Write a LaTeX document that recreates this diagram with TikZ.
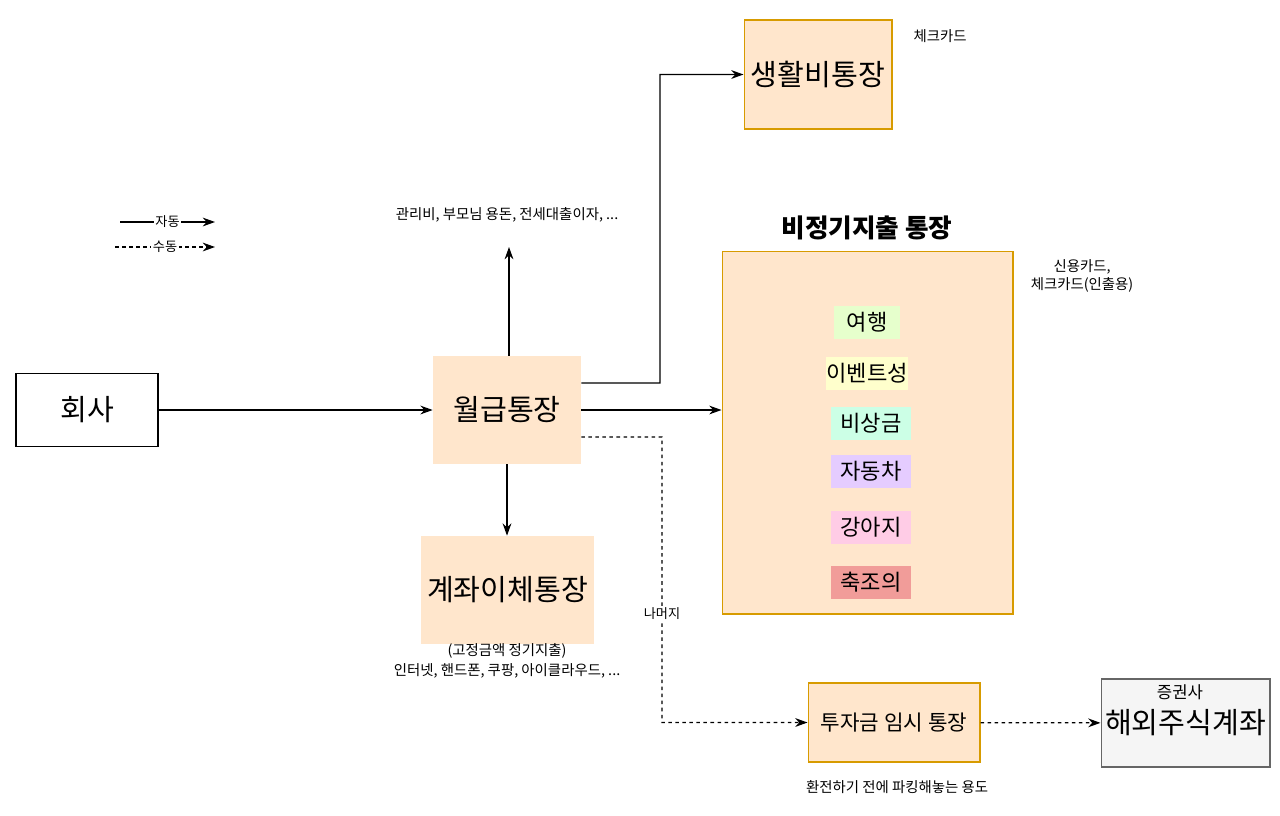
\documentclass[tikz,border=0pt]{standalone}
\usepackage{fontspec}
\setmainfont{Noto Sans CJK KR}
\usetikzlibrary{arrows.meta}
\definecolor{acc}{HTML}{FFE6CC}
\definecolor{accline}{HTML}{D79B00}
\definecolor{travel}{HTML}{E6FFCC}
\definecolor{event}{HTML}{FFFFCC}
\definecolor{reserve}{HTML}{CCFFE6}
\definecolor{car}{HTML}{E5CCFF}
\definecolor{dog}{HTML}{FFCCE6}
\definecolor{family}{HTML}{F19C99}
\definecolor{broker}{HTML}{F5F5F5}
\definecolor{brokerline}{HTML}{666666}
\begin{document}
\begin{tikzpicture}[x=0.02cm,y=-0.02cm,
    >={Stealth[length=7pt,width=5pt]},
    flow/.style={line width=0.7pt},
    manual/.style={line width=0.7pt,dash pattern=on 2pt off 2pt},
    big/.style={font=\fontsize{16.6}{19}\selectfont,inner sep=0pt},
    acct/.style={big,fill=acc},
    accbox/.style={acct,draw=accline,line width=0.6pt},
    item/.style={inner sep=0pt,minimum height=0.66cm,minimum width=1.6cm,font=\fontsize{12.6}{14}\selectfont},
    note/.style={font=\fontsize{8.2}{11}\selectfont,align=center},
    tiny/.style={font=\fontsize{7.5}{9}\selectfont,fill=white,inner sep=1pt}]
\useasboundingbox (0,0) rectangle (1280,815);
\node[big,draw,line width=0.6pt,minimum width=2.84cm,minimum height=1.46cm] (company) at (87,410) {회사};
\node[acct,minimum width=2.96cm,minimum height=2.16cm] (salary) at (507,410) {월급통장};
\node[acct,minimum width=3.46cm,minimum height=2.16cm] (transfer) at (507.5,590) {계좌이체통장};
\node[accbox,minimum width=2.96cm,minimum height=2.18cm] (living) at (818,74.5) {생활비통장};
\node[accbox,minimum width=5.82cm,minimum height=7.26cm] (irregular) at (867.5,432.5) {};
\node[font=\bfseries\fontsize{14.6}{17}\selectfont] (irrtitle) at (867,228) {비정기지출 통장};
\node[item,fill=travel,minimum width=1.32cm] (travel) at (867,322.5) {여행};
\node[item,fill=event] (event) at (867,373.5) {이벤트성};
\node[item,fill=reserve] (reserve) at (871,423.5) {비상금};
\node[item,fill=car] (car) at (871,471.5) {자동차};
\node[item,fill=dog] (dog) at (871,527.5) {강아지};
\node[item,fill=family] (family) at (871,582.5) {축조의};
\node[accbox,font=\fontsize{12.1}{14}\selectfont,minimum width=3.44cm,minimum height=1.58cm] (invest) at (894,722.5) {투자금 임시 통장};
\node[big,fill=broker,draw=brokerline,line width=0.6pt,minimum width=3.38cm,minimum height=1.76cm] (foreign) at (1185.5,723) {해외주식계좌};
\node[note,font=\fontsize{9.5}{11}\selectfont] (brokername) at (1180,692) {증권사};
\node[note] (checkcard) at (940,36) {체크카드};
\node[note] (fixed) at (507,215) {관리비, 부모님 용돈, 전세대출이자, ...};
\node[note,font=\fontsize{8.2}{10.2}\selectfont] (cards) at (1082,276) {신용카드,\\체크카드(인출용)};
\node[note,font=\fontsize{8.2}{11.3}\selectfont] (regular) at (507,661) {(고정금액 정기지출)\\인터넷, 핸드폰, 쿠팡, 아이클라우드, ...};
\node[note] (parking) at (897,787) {환전하기 전에 파킹해놓는 용도};
\coordinate (upend) at (509,247);
\coordinate (bendliving) at (660,383);
\coordinate (bendinvest) at (662,437);
\draw[flow,->] (company) -- (salary);
\draw[flow,->] (salary.north -| upend) -- (upend);
\draw[flow,->] ([yshift=0.54cm]salary.east) -- (bendliving) |- (living.west);
\draw[flow,->] (salary.east) -- (salary.east -| irregular.west);
\draw[flow,->] (salary.south) -- (salary.south |- transfer.north);
\draw[manual,->] ([yshift=-0.54cm]salary.east) -- (bendinvest) |- (invest.west)
    node[tiny,pos=0.31] (rest) {나머지};
\draw[manual,->] (invest) -- (foreign);
\coordinate (autostart) at (120,222);
\coordinate (autoend) at (215,222);
\coordinate (manstart) at (115,247);
\coordinate (manend) at (215,247);
\draw[flow,->] (autostart) -- node[tiny] (autolabel) {자동} (autoend);
\draw[manual,->] (manstart) -- node[tiny] (manlabel) {수동} (manend);
\end{tikzpicture}
\end{document}
